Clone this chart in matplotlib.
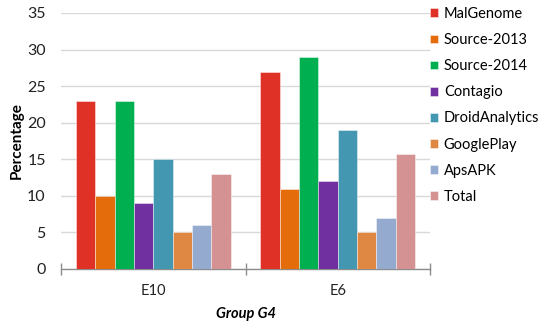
import matplotlib
matplotlib.use("Agg")
import matplotlib.pyplot as plt
import numpy as np

categories = ["E10", "E6"]
series_names = ["MalGenome", "Source-2013", "Source-2014", "Contagio",
                "DroidAnalytics", "GooglePlay", "ApsAPK", "Total"]
values = {
    "MalGenome":      [23, 27],
    "Source-2013":    [10, 11],
    "Source-2014":    [23, 29],
    "Contagio":       [9, 12],
    "DroidAnalytics": [15, 19],
    "GooglePlay":     [5, 5],
    "ApsAPK":         [6, 7],
    "Total":          [13, 15.7],
}
colors = ["#E03127", "#E46C0A", "#00B050", "#7030A0",
          "#4397B0", "#DE8843", "#95AACF", "#D49293"]

plt.rcParams['font.family'] = ['Lato', 'DejaVu Sans']

fig = plt.figure(figsize=(5.42, 3.26), dpi=100)
ax = fig.add_axes([61/542, 1 - 269/326, (430-61)/542, (269-13)/326])

n = len(series_names)
group_w = 0.84
bw = group_w / n
x = np.arange(len(categories))
for i, name in enumerate(series_names):
    pos = x - group_w/2 + bw*(i + 0.5)
    ax.bar(pos, values[name], width=bw, color=colors[i], label=name,
           edgecolor=(1, 1, 1, 0.5), linewidth=0.6, zorder=3)

ax.set_xlim(-0.5, len(categories) - 0.5)
ax.set_ylim(0, 35)
ax.set_yticks(range(0, 36, 5))
ax.yaxis.grid(True, color="#D9D9D9", linewidth=1, zorder=0)
ax.set_axisbelow(True)
for s in ["top", "right", "left"]:
    ax.spines[s].set_visible(False)
ax.spines["bottom"].set_color("#8C8C8C")
ax.spines["bottom"].set_linewidth(1)
ax.tick_params(axis="y", length=0, labelsize=11.5, pad=11, colors="#222222")
ax.set_xticks(x)
ax.set_xticklabels(categories)
ax.set_xticks([-0.5, 0.5, 1.5], minor=True)
ax.tick_params(axis="x", which="major", length=0, labelsize=10.5, pad=11, colors="#222222")
ax.tick_params(axis="x", which="minor", length=9, direction="inout", color="#8C8C8C", width=1)

ax.set_ylabel("Percentage", fontsize=11, fontweight="bold", labelpad=2)
ax.set_xlabel("Group G4", fontsize=10.5, fontweight="bold", style="italic", labelpad=6)

handles, labels = ax.get_legend_handles_labels()
leg = fig.legend(handles, labels, loc="upper left", bbox_to_anchor=(430/542, 1 - 7/326),
                 frameon=False, fontsize=10.5, handlelength=0.55, handleheight=0.55,
                 handletextpad=0.4, labelspacing=0.83, borderaxespad=0, borderpad=0)

fig.savefig("out.png", dpi=100)
